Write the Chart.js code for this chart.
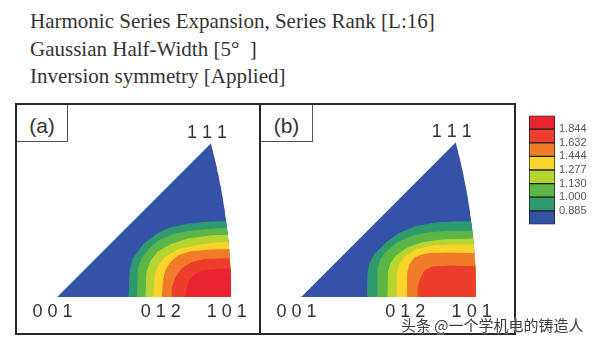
<!DOCTYPE html>
<html><head><meta charset="utf-8">
<script src="https://cdn.jsdelivr.net/npm/chart.js@4.4.1/dist/chart.umd.min.js"></script>
<style>
html,body{margin:0;padding:0;background:#fff;}
#wrap{position:relative;width:600px;height:341px;overflow:hidden;font-family:"Liberation Sans",Arial,sans-serif;}
.title{position:absolute;left:30px;top:8px;font-family:"Liberation Serif","Times New Roman",serif;font-size:21px;line-height:27.5px;color:#333;white-space:nowrap;}
.frame{position:absolute;border:2px solid #262626;box-sizing:border-box;}
.tag{position:absolute;border-right:1px solid #555;border-bottom:1px solid #555;box-sizing:border-box;font-size:21px;color:#333;text-align:center;line-height:41px;background:#fff;z-index:3;}
canvas{position:absolute;}
.wm{position:absolute;left:401px;top:314px;font-family:"Noto Sans CJK SC",sans-serif;font-size:15px;line-height:21px;color:#3c3c3c;white-space:nowrap;text-shadow:0 0 2px #fff,0 0 2px #fff;z-index:5;}
</style></head>
<body>
<div id="wrap">
  <div class="title">Harmonic Series Expansion, Series Rank [L:16]<br>Gaussian Half-Width [5°&nbsp;&nbsp;]<br>Inversion symmetry [Applied]</div>
  <div class="frame" style="left:15px;top:103px;width:246px;height:232px;"></div>
  <div class="frame" style="left:259px;top:103px;width:257px;height:232px;"></div>
  <canvas id="cA" width="242" height="228" style="left:17px;top:105px;"></canvas>
  <canvas id="cB" width="253" height="228" style="left:261px;top:105px;"></canvas>
  <div class="tag" style="left:17px;top:105px;width:51px;height:37px;">(a)</div>
  <div class="tag" style="left:261px;top:105px;width:52px;height:37px;">(b)</div>
  <canvas id="cBar" width="73" height="130" style="left:527px;top:105px;"></canvas>
  <div class="wm">头条 @一个学机电的铸造人</div>
</div>
<script>
// ---- data ----
// contour levels (colour bar tick labels)
const levels = ['0.885', '1.000', '1.130', '1.277', '1.444', '1.632', '1.844'];
// corner labels of the standard triangle (x in units of the 001–101 distance)
const cornerText = ['0 0 1', '0 1 2', '1 0 1', '1 1 1'];
const cornerX = [-0.026, 0.596, 0.975, 0.862];
// contour boundaries (stereographic position, 001->101 distance = 1), lowest level first
const contoursA = [
  [[0.414,0],[0.420,0.149],[0.437,0.218],[0.500,0.305],[0.575,0.362],[0.649,0.397],[0.764,0.420],[0.879,0.431],[1.05,0.434]],
  [[0.463,0],[0.468,0.167],[0.489,0.224],[0.534,0.282],[0.592,0.328],[0.678,0.362],[0.793,0.382],[0.908,0.391],[1.05,0.394]],
  [[0.511,0],[0.517,0.144],[0.540,0.207],[0.580,0.259],[0.649,0.299],[0.753,0.333],[0.879,0.351],[1.05,0.356]],
  [[0.557,0],[0.563,0.121],[0.586,0.184],[0.626,0.230],[0.695,0.270],[0.805,0.296],[0.908,0.310],[1.05,0.316]],
  [[0.606,0],[0.612,0.098],[0.626,0.155],[0.655,0.201],[0.695,0.236],[0.764,0.259],[0.879,0.270],[1.05,0.273]],
  [[0.661,0],[0.664,0.052],[0.681,0.109],[0.718,0.164],[0.776,0.198],[0.851,0.216],[1.05,0.221]],
  [[0.741,0],[0.747,0.052],[0.764,0.098],[0.799,0.132],[0.851,0.152],[0.925,0.158],[1.05,0.161]]
];
const contoursB = [
  [[0.380,0],[0.383,0.137],[0.394,0.194],[0.423,0.246],[0.486,0.309],[0.560,0.363],[0.657,0.403],[0.771,0.423],[0.886,0.429],[1.05,0.429]],
  [[0.440,0],[0.440,0.166],[0.457,0.217],[0.486,0.257],[0.549,0.309],[0.623,0.343],[0.720,0.366],[0.834,0.374],[1.05,0.377]],
  [[0.497,0],[0.500,0.143],[0.514,0.194],[0.543,0.234],[0.606,0.280],[0.697,0.311],[0.811,0.326],[1.05,0.334]],
  [[0.549,0],[0.551,0.131],[0.566,0.189],[0.594,0.229],[0.657,0.269],[0.749,0.291],[0.863,0.297],[1.05,0.297]],
  [[0.609,0],[0.609,0.131],[0.620,0.183],[0.646,0.220],[0.691,0.240],[0.737,0.249],[0.851,0.251],[1.05,0.246]],
  [[0.669,0],[0.671,0.057],[0.686,0.109],[0.706,0.149],[0.749,0.171],[0.851,0.177],[0.949,0.174],[1.05,0.169]]
];

// ---- styles ----
const baseColor = '#3553a6';
const levelColors = ['#2f9a6d', '#5bb547', '#b7d52f', '#fbd42b', '#f07c2a', '#ec3e2b', '#e72430'];
const barColors = [baseColor].concat(levelColors);

// standard stereographic triangle outline (001 - 101 - great circle - 111)
const T = Math.SQRT2 - 1;
const outline = [{x: 0, y: 0}];
for (let i = 0; i <= 40; i++) {
  const t = i / 40, n = Math.sqrt(2 + t * t);
  outline.push({x: 1 / (n + 1) / T, y: t / (n + 1) / T});
}

function regionDatasets(contours) {
  const ds = [{
    data: outline, showLine: true, fill: 'shape', backgroundColor: baseColor,
    borderColor: baseColor, borderWidth: 1, pointRadius: 0, order: 20
  }];
  contours.forEach((c, i) => {
    const pts = [{x: c[0][0], y: -0.05}].concat(c.map(p => ({x: p[0], y: p[1]})));
    pts.push({x: c[c.length - 1][0], y: -0.05});
    ds.push({
      data: pts, showLine: true, fill: 'shape', backgroundColor: levelColors[i],
      borderColor: levelColors[i], borderWidth: 1, pointRadius: 0, order: 19 - i
    });
  });
  return ds;
}

const trianglePlugin = {
  id: 'triangle',
  beforeDatasetsDraw(chart) {
    const {ctx, scales: {x, y}} = chart;
    ctx.save();
    ctx.beginPath();
    outline.forEach((p, i) => {
      const px = x.getPixelForValue(p.x), py = y.getPixelForValue(p.y);
      if (i) ctx.lineTo(px, py); else ctx.moveTo(px, py);
    });
    ctx.closePath();
    ctx.clip();
  },
  afterDatasetsDraw(chart) {
    const {ctx, scales: {x, y}} = chart;
    ctx.restore();
    ctx.save();
    ctx.fillStyle = '#333';
    ctx.font = '18px "Liberation Sans", Arial, sans-serif';
    ctx.textAlign = 'center';
    ctx.textBaseline = 'alphabetic';
    const y0 = y.getPixelForValue(0);
    const yTop = y.getPixelForValue(outline[outline.length - 1].y);
    cornerText.forEach((t, i) => {
      const px = x.getPixelForValue(cornerX[i]);
      ctx.fillText(t, px, i === 3 ? yTop - 5 : y0 + 20);
    });
    ctx.restore();
  }
};

function makePanel(id, contours, xr, yr) {
  return new Chart(document.getElementById(id), {
    type: 'scatter',
    data: {datasets: regionDatasets(contours)},
    options: {
      responsive: false, animation: false, events: [],
      layout: {padding: 0},
      plugins: {legend: {display: false}, tooltip: {enabled: false}},
      scales: {
        x: {type: 'linear', display: false, min: xr[0], max: xr[1]},
        y: {type: 'linear', display: false, min: yr[0], max: yr[1]}
      }
    },
    plugins: [trianglePlugin]
  });
}

makePanel('cA', contoursA, [-0.2299, 1.1609], [-0.2069, 1.1034]);
makePanel('cB', contoursB, [-0.2286, 1.2171], [-0.2057, 1.0971]);

// colour bar
new Chart(document.getElementById('cBar'), {
  type: 'bar',
  data: {
    labels: [''],
    datasets: barColors.map(c => ({
      data: [1], backgroundColor: c, borderColor: '#1c1c1c', borderWidth: 1,
      borderSkipped: false, barPercentage: 1, categoryPercentage: 1
    }))
  },
  options: {
    responsive: false, animation: false, events: [],
    layout: {padding: {left: 2, top: 2, bottom: 2, right: 0}},
    plugins: {legend: {display: false}, tooltip: {enabled: false}},
    scales: {
      x: {stacked: true, display: false},
      y: {
        stacked: true, position: 'right', min: 0, max: barColors.length,
        border: {display: false},
        grid: {display: false, drawTicks: false},
        afterFit: s => { s.width = 45; },
        afterBuildTicks: s => { s.ticks = levels.map((l, i) => ({value: i + 1})); },
        ticks: {
          padding: 4, color: '#555',
          font: {family: '"Liberation Sans", Arial, sans-serif', size: 11},
          callback: (v, i) => levels[i]
        }
      }
    }
  }
});
</script>
</body></html>
